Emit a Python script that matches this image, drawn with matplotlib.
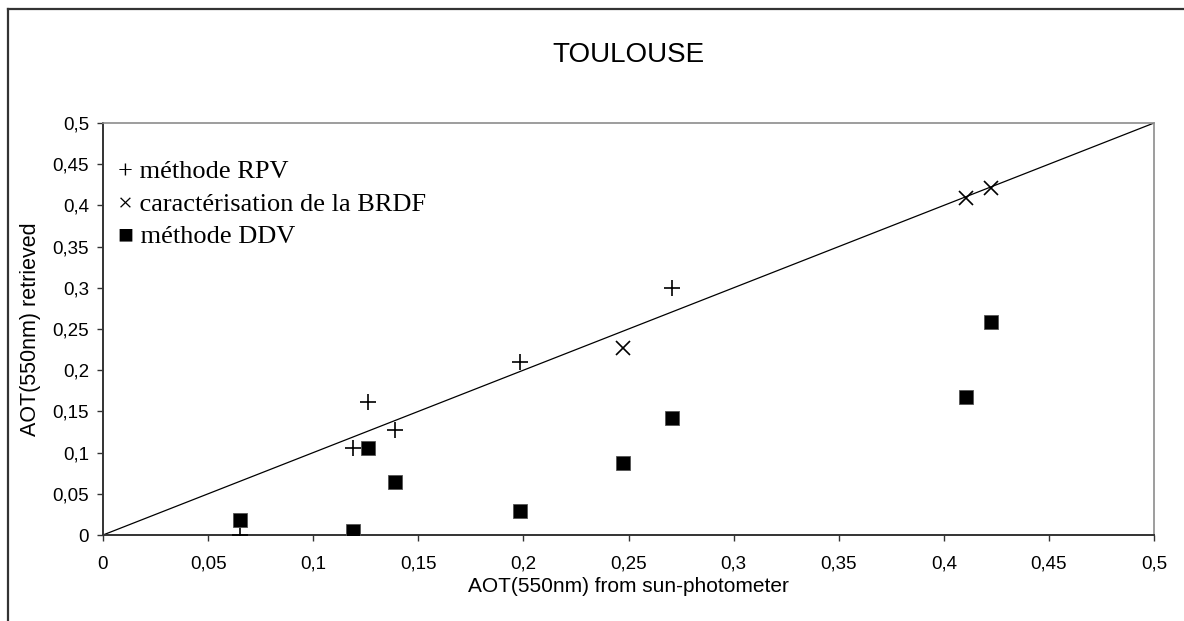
import matplotlib
matplotlib.use('Agg')
import matplotlib.pyplot as plt
from matplotlib.lines import Line2D
import numpy as np

# Data
rpv_x = [0.0654, 0.119, 0.126, 0.1388, 0.1985, 0.2708]
rpv_y = [0.0, 0.106, 0.162, 0.127, 0.210, 0.300]

brdf_x = [0.2473, 0.4105, 0.4224]
brdf_y = [0.2265, 0.409, 0.421]

ddv_x = [0.0654, 0.119, 0.126, 0.1388, 0.1985, 0.2473, 0.2708, 0.4105, 0.4224]
ddv_y = [0.018, 0.005, 0.105, 0.064, 0.029, 0.087, 0.142, 0.168, 0.259]

ticks = [0, 0.05, 0.1, 0.15, 0.2, 0.25, 0.3, 0.35, 0.4, 0.45, 0.5]
tick_labels = ['0', '0,05', '0,1', '0,15', '0,2', '0,25', '0,3', '0,35', '0,4', '0,45', '0,5']

legend_lines = ['+ méthode RPV', '× caractérisation de la BRDF', '■ méthode DDV']

plt.rcParams['font.family'] = ['Liberation Sans', 'DejaVu Sans']

fig = plt.figure(figsize=(11.84, 6.21), dpi=100)
ax = fig.add_axes([103 / 1184, 1 - 535 / 621, (1154 - 103) / 1184, (535 - 123) / 621])

# 1:1 line
ax.plot([0, 0.5], [0, 0.5], color='black', lw=0.9, zorder=1)

ax.plot(rpv_x, rpv_y, linestyle='none', marker='+', markersize=11, mew=1.2, color='black', zorder=3)
ax.plot(brdf_x, brdf_y, linestyle='none', marker='x', markersize=9.5, mew=1.2, color='black', zorder=3)
ax.plot(ddv_x, ddv_y, linestyle='none', marker='s', markersize=9.5, mew=0.6,
        markerfacecolor='black', markeredgecolor='#555555', zorder=3)

ax.set_xlim(0, 0.5)
ax.set_ylim(0, 0.5)
ax.set_xticks(ticks)
ax.set_xticklabels(tick_labels)
ax.set_yticks(ticks)
ax.set_yticklabels(tick_labels)
ax.tick_params(direction='out', length=4, width=1, labelsize=13.5, colors='#333333', labelcolor='black')
ax.tick_params(axis='x', pad=11)
ax.tick_params(axis='y', pad=6)

for side in ['left', 'bottom']:
    ax.spines[side].set_color('#333333')
    ax.spines[side].set_linewidth(1.4)
for side in ['top', 'right']:
    ax.spines[side].set_color('#8c8c8c')
    ax.spines[side].set_linewidth(1.2)

ax.set_xlabel('AOT(550nm) from sun-photometer', fontsize=15, labelpad=3)
ax.set_ylabel('AOT(550nm) retrieved', fontsize=15.5, labelpad=8)

fig.text(628 / 1184, 1 - 55 / 621, 'TOULOUSE', ha='center', va='center', fontsize=20)

# text legend
for i, txt in enumerate(legend_lines):
    ax.text(0.0143, 0.881 - i * 0.079, txt, transform=ax.transAxes, ha='left', va='center',
            fontsize=19, family=['Liberation Serif', 'DejaVu Serif'])

# chart border (cropped at right and bottom)
fig.add_artist(Line2D([8 / 1184, 8 / 1184], [0, 1 - 9 / 621], color='#333333', lw=1.6))
fig.add_artist(Line2D([8 / 1184, 1], [1 - 9 / 621, 1 - 9 / 621], color='#333333', lw=1.6))

fig.savefig('out.png', dpi=100)
